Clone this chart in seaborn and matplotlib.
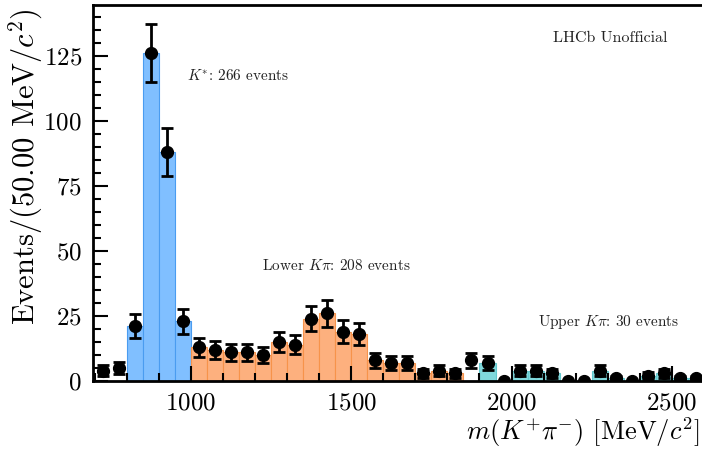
import numpy as np
import pandas as pd
import matplotlib
matplotlib.use("Agg")
import matplotlib.pyplot as plt
import seaborn as sns
from matplotlib.ticker import MultipleLocator

# Bin lower edges (MeV/c^2) and event counts per 50 MeV/c^2 bin
bin_low = [700, 750, 800, 850, 900, 950, 1000, 1050, 1100, 1150, 1200, 1250,
           1300, 1350, 1400, 1450, 1500, 1550, 1600, 1650, 1700, 1750, 1800,
           1850, 1900, 1950, 2000, 2050, 2100, 2150, 2200, 2250, 2300, 2350,
           2400, 2450, 2500, 2550]
counts = [4, 5, 21, 126, 88, 23, 13, 12, 11, 11, 10, 15,
          14, 24, 26, 19, 18, 8, 7, 7, 3, 4, 3,
          8, 7, 0, 4, 4, 3, 0, 0, 4, 1, 0,
          2, 3, 1, 1]

# Mass windows: (label, low, high, fill, edge)
regions = [("K*", 800, 1000, "#80bfff", "#4a9cf0"),
           ("Lower", 1000, 1850, "#fdb07e", "#f7934a"),
           ("Upper", 1900, 2600, "#80d8dc", "#62c8ce")]

region_labels = [r"$K^{*}$: 266 events",
                 r"Lower $K\pi$: 208 events",
                 r"Upper $K\pi$: 30 events"]
label_pos = [(987, 117.5), (1222, 44.5), (2081, 22.8)]

binw = 50
df = pd.DataFrame({"low": bin_low, "n": counts})
df["centre"] = df["low"] + binw / 2
df["err"] = np.sqrt(df["n"])

plt.rcParams.update({
    "font.family": "serif",
    "font.serif": ["cmr10"],
    "mathtext.fontset": "cm",
    "axes.formatter.use_mathtext": True,
    "axes.unicode_minus": False,
})

fig = plt.figure(figsize=(7.02, 4.5), dpi=100)
ax = fig.add_axes([93 / 702, 69 / 450, 611 / 702, 376 / 450])

for name, lo, hi, fill, edge in regions:
    sub = df[(df["low"] >= lo) & (df["low"] < hi)]
    # one entry per event, placed at its bin centre
    events = pd.DataFrame({"m": np.repeat(sub["centre"].to_numpy(),
                                          sub["n"].to_numpy())})
    edges = [float(e) for e in range(lo, hi + binw, binw)]
    sns.histplot(data=events, x="m", bins=edges,
                 color=fill, edgecolor=edge, linewidth=0.8, alpha=1.0,
                 ax=ax, zorder=1)

ax.errorbar(df["centre"], df["n"], yerr=df["err"], fmt="o", color="black",
            markersize=8.5, elinewidth=2.0, capsize=4, capthick=2.0, zorder=5)

for txt, (x, y) in zip(region_labels, label_pos):
    ax.text(x, y, txt, fontsize=11, ha="left", va="center", color="#222222")
ax.text(2128, 131.8, "LHCb Unofficial", fontsize=11.5, ha="left", va="center",
        color="#222222")

ax.set_xlim(695, 2600)
ax.set_ylim(0, 144.5)
ax.xaxis.set_major_locator(MultipleLocator(500))
ax.xaxis.set_minor_locator(MultipleLocator(100))
ax.yaxis.set_major_locator(MultipleLocator(25))
ax.yaxis.set_minor_locator(MultipleLocator(5))
ax.tick_params(which="both", direction="in", top=False, right=False,
               labelsize=18, width=1.5, pad=8)
ax.tick_params(which="major", length=11)
ax.tick_params(which="minor", length=6)
for side in ["left", "bottom", "top"]:
    ax.spines[side].set_linewidth(2.0)
ax.spines["right"].set_visible(False)

ax.set_xlabel(r"$m(K^{+}\pi^{-})$ [MeV/$c^{2}$]", fontsize=19, ha="right",
              x=0.992, labelpad=1)
ax.set_ylabel(r"Events/(50.00 MeV/$c^{2}$)", fontsize=22, ha="right",
              y=0.99, labelpad=-1)

fig.savefig("out.png", dpi=100)
